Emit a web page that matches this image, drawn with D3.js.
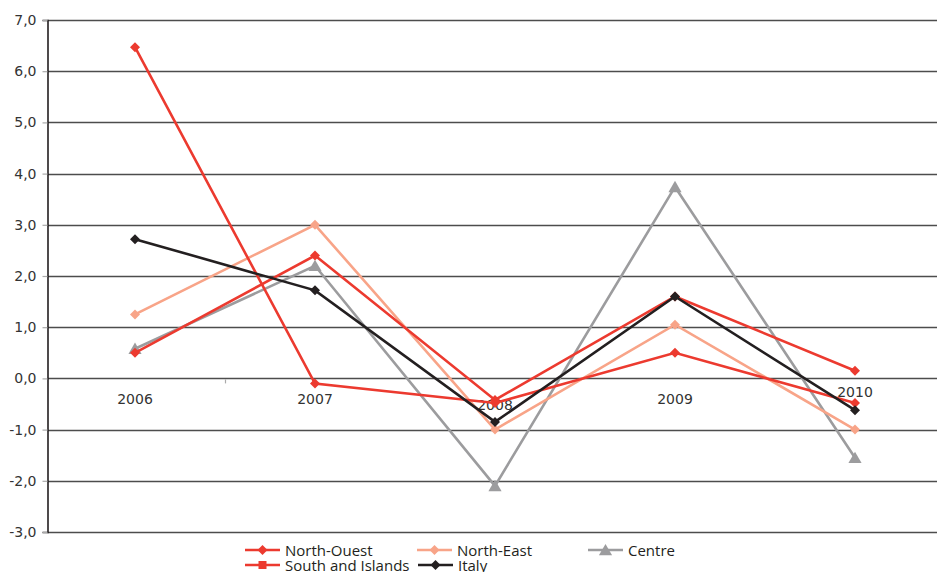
<!DOCTYPE html>
<html>
<head>
<meta charset="utf-8">
<script src="https://cdn.jsdelivr.net/npm/d3@7/dist/d3.min.js"></script>
<style>
  html, body { margin: 0; padding: 0; background: #fff; }
  svg { display: block; }
</style>
</head>
<body>
<svg id="chart" width="937" height="572"></svg>
<script>
// Years on the category axis
const years = ["2006", "2007", "2008", "2009", "2010"];
// Vertical offsets of the year labels (they sit just under the zero line)
const yearLabelShift = [0, 0, 6, 0, -7];

// Annual change by area
const northOuest = [6.47, -0.1, -0.48, 0.5, -0.48];
const northEast = [1.25, 3.0, -1.0, 1.05, -1.0];
const centre = [0.58, 2.2, -2.1, 3.74, -1.55];
const southIslands = [0.5, 2.4, -0.42, 1.6, 0.15];
const italy = [2.72, 1.72, -0.85, 1.6, -0.62];

const yTicks = [-3, -2, -1, 0, 1, 2, 3, 4, 5, 6, 7];

const series = [
  { name: "North-Ouest", values: northOuest, color: "#ec3a2f", marker: "diamond" },
  { name: "North-East", values: northEast, color: "#f8a488", marker: "diamond" },
  { name: "Centre", values: centre, color: "#9c9c9e", marker: "triangle" },
  { name: "South and Islands", values: southIslands, color: "#ec3a2f", marker: "diamond", legendMarker: "square" },
  { name: "Italy", values: italy, color: "#231f20", marker: "diamond" }
];

const svg = d3.select("#chart");

const x = d3.scaleBand().domain(years).range([45, 945]);
const y = d3.scaleLinear().domain([-3, 7]).range([532, 20]);
const plotLeft = 47.5;
const plotRight = 937;

// Horizontal gridlines
svg.append("g").selectAll("line").data(yTicks).join("line")
  .attr("x1", plotLeft).attr("x2", plotRight)
  .attr("y1", d => Math.round(y(d)) + 0.5).attr("y2", d => Math.round(y(d)) + 0.5)
  .attr("stroke", "#4d4d4d").attr("stroke-width", 1.6);

// Y axis with tick labels
const yAxis = d3.axisLeft(y).tickValues(yTicks).tickSize(5).tickPadding(6)
  .tickFormat(d => d3.format(".1f")(d).replace(".", ",").replace("−", "-"));
const yg = svg.append("g").attr("transform", `translate(${plotLeft},0)`).call(yAxis);
yg.select(".domain").attr("stroke", "#231f20").attr("stroke-width", 1.6);
yg.selectAll(".tick line").attr("stroke", "#aaaaaa").attr("stroke-width", 1.2);
yg.selectAll(".tick text")
  .attr("font-family", "DejaVu Sans, Verdana, sans-serif")
  .attr("font-size", 14).attr("fill", "#333");

// Small category tick on the zero line
svg.append("line")
  .attr("x1", x("2007") + 0.5).attr("x2", x("2007") + 0.5)
  .attr("y1", y(0) + 1).attr("y2", y(0) + 5)
  .attr("stroke", "#aaaaaa").attr("stroke-width", 1.2);

// Year labels
svg.append("g").selectAll("text").data(years).join("text")
  .attr("x", d => x(d) + x.bandwidth() / 2)
  .attr("y", (d, i) => y(0) + 26 + yearLabelShift[i])
  .attr("text-anchor", "middle")
  .attr("font-family", "DejaVu Sans, Verdana, sans-serif")
  .attr("font-size", 14).attr("fill", "#333")
  .text(d => d);

const cx = yr => x(yr) + x.bandwidth() / 2;
const line = d3.line().x((d, i) => cx(years[i])).y(d => y(d));

// Diamonds are squares turned by 45 degrees
const markerPath = m => m === "triangle"
  ? d3.symbol().type(d3.symbolTriangle).size(75)()
  : d3.symbol().type(d3.symbolSquare).size(m === "square" ? 64 : 50)();
const markerRot = m => m === "diamond" ? " rotate(45)" : "";

const drawOrder = [2, 1, 0, 3, 4];
drawOrder.forEach(k => {
  const s = series[k];
  const g = svg.append("g");
  g.append("path").datum(s.values)
    .attr("d", line).attr("fill", "none")
    .attr("stroke", s.color).attr("stroke-width", 2.6)
    .attr("stroke-linejoin", "miter");
  g.selectAll("path.pt").data(s.values).join("path").attr("class", "pt")
    .attr("transform", (d, i) => `translate(${cx(years[i])},${y(d) + (s.marker === "triangle" ? 1.5 : 0)})${markerRot(s.marker)}`)
    .attr("d", markerPath(s.marker))
    .attr("fill", s.color);
});

// Legend
const legendPos = [
  { x: 245, y: 550 }, { x: 417, y: 550 }, { x: 588, y: 550 },
  { x: 245, y: 565 }, { x: 418, y: 565 }
];
series.forEach((s, i) => {
  const p = legendPos[i];
  const g = svg.append("g").attr("transform", `translate(${p.x},${p.y})`);
  g.append("line").attr("x1", 0).attr("x2", 35).attr("y1", 0).attr("y2", 0)
    .attr("stroke", s.color).attr("stroke-width", 2.6);
  const m = s.legendMarker || s.marker;
  g.append("path").attr("transform", `translate(17.5,${m === "triangle" ? 1.5 : 0})${markerRot(m)}`)
    .attr("d", markerPath(m))
    .attr("fill", s.color);
  g.append("text").attr("x", 40).attr("y", 5.5)
    .attr("font-family", "Open Sans, Liberation Sans, sans-serif")
    .attr("font-size", 15).attr("fill", "#231f20")
    .text(s.name);
});
</script>
</body>
</html>
